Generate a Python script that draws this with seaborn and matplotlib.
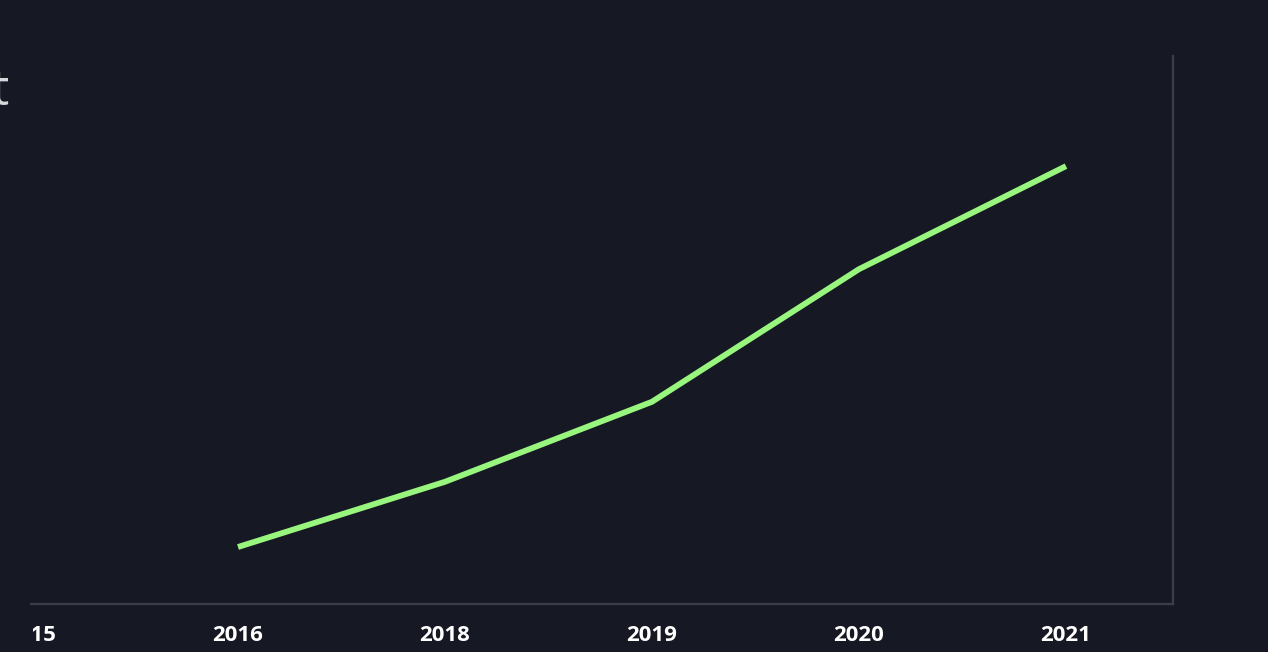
import matplotlib
matplotlib.use("Agg")
import matplotlib.pyplot as plt
import seaborn as sns
import numpy as np
import pandas as pd
from matplotlib.transforms import Bbox, TransformedBbox

# ---- data ----
years = ["2015", "2016", "2018", "2019", "2020", "2021"]
values = [np.nan, 10.4, 22.3, 36.9, 61.1, 79.9]
title_text = "Market"

BG = "#161823"
LINE = "#98f57e"
SPINE = "#3b3d4a"

sns.set_theme(style="dark")
plt.rcParams["font.family"] = ["Open Sans", "DejaVu Sans"]

fig = plt.figure(figsize=(12.68, 6.52), dpi=100, facecolor=BG)
W, H = 1268, 652
ax = fig.add_axes([31 / W, (H - 604) / H, (1173 - 31) / W, (604 - 56) / H])
ax.set_facecolor(BG)

df = pd.DataFrame({"pos": np.arange(len(years)), "value": values})
sns.lineplot(data=df, x="pos", y="value", ax=ax, color=LINE, linewidth=4.2)
for ln in ax.get_lines():
    ln.set_solid_capstyle("butt")
    ln.set_solid_joinstyle("miter")

ax.set_xlim(0, 5.517)
ax.set_ylim(0, 100)
ax.set_xticks(np.arange(len(years)))
ax.set_xticklabels(years, color="white", fontsize=16, fontweight="bold")
ax.set_yticks([])
ax.set_xlabel("")
ax.set_ylabel("")
ax.grid(False)
ax.tick_params(axis="x", colors=SPINE, length=6, width=1.5, pad=9, labelcolor="white")

for s in ["left", "top"]:
    ax.spines[s].set_visible(False)
for s in ["bottom", "right"]:
    ax.spines[s].set_visible(True)
    ax.spines[s].set_color(SPINE)
    ax.spines[s].set_linewidth(1.6)

# the first category sits just past the clipped left edge of the view
clip = TransformedBbox(Bbox([[0.33, 0], [12.68, 6.52]]), fig.dpi_scale_trans)
ticks = ax.xaxis.get_major_ticks()
ticks[0].tick1line.set_visible(False)
ticks[0].label1.set_clip_box(clip)
ticks[0].label1.set_clip_on(True)

fig.text(9 / W, 1 - 92 / H, title_text, ha="right", va="center",
         color="#d8d8dc", fontsize=36, fontweight="normal")

fig.savefig("out.png", dpi=100, facecolor=BG)
